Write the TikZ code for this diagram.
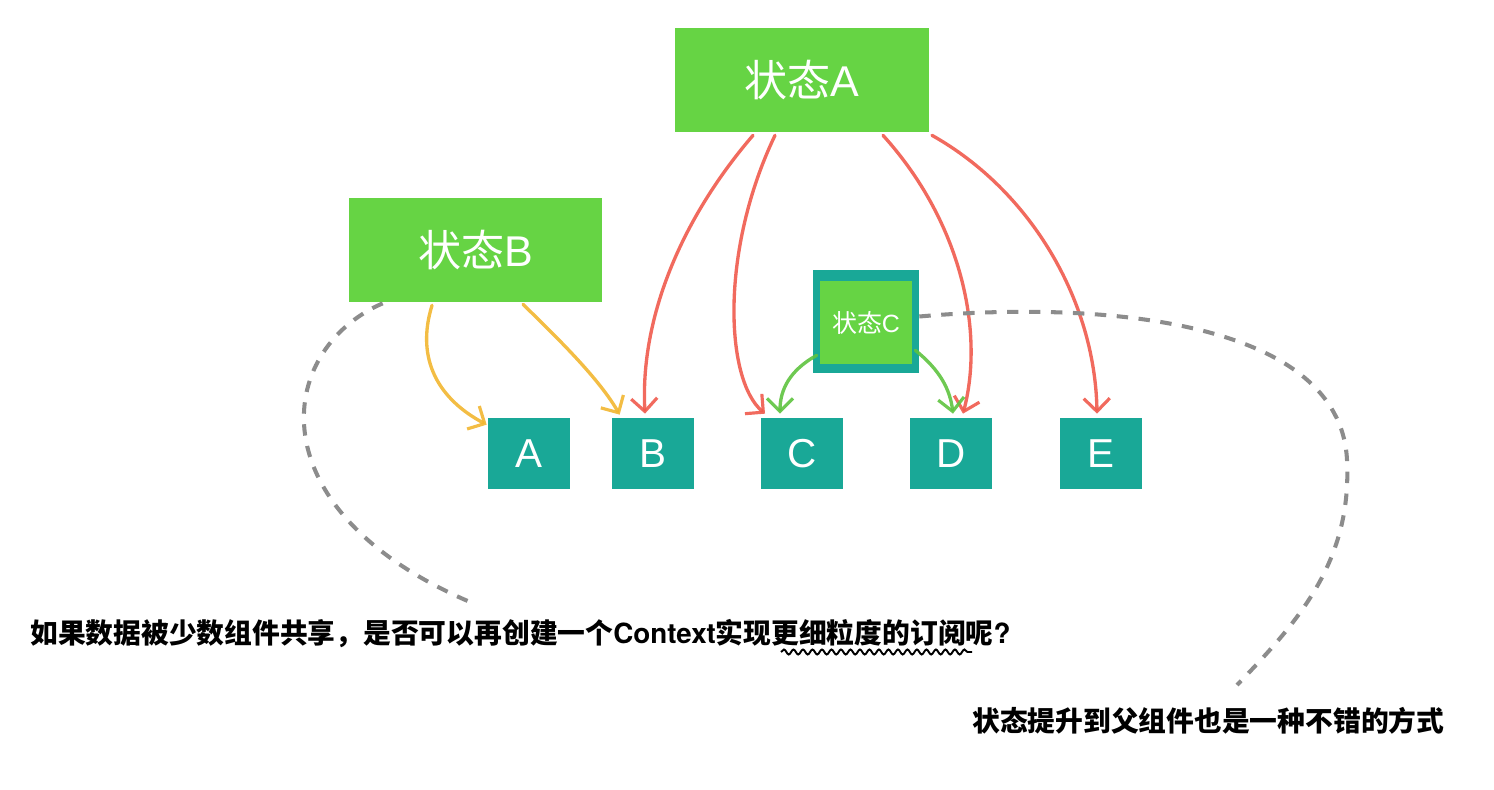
\documentclass[tikz,border=0pt]{standalone}
\usepackage{fontspec}
\setmainfont{Noto Sans CJK SC}
\newfontfamily\lat{Liberation Sans}
\newfontfamily\latb{TeX Gyre Heros}
\usetikzlibrary{arrows.meta,decorations.pathmorphing}
\definecolor{sgreen}{HTML}{66D444}
\definecolor{steal}{HTML}{19A897}
\definecolor{sred}{HTML}{F05A4C}
\definecolor{syellow}{HTML}{F2B630}
\definecolor{sgray}{HTML}{8C8C8C}
\tikzset{
  statebox/.style={fill=sgreen, text=white, inner sep=0pt, font=\fontsize{24.5}{28}\selectfont},
  leafbox/.style={fill=steal, text=white, inner sep=0pt, minimum width=1.64cm, minimum height=1.42cm, font=\lat\fontsize{23}{26}\selectfont},
  sketch/.style={line width=1.9pt, opacity=0.9, line cap=round,
    -{Straight Barb[length=2.6mm, width=5.2mm, line width=1.8pt]}},
  redarrow/.style={sketch, draw=sred},
  yelarrow/.style={sketch, draw=syellow},
  grnarrow/.style={sketch, draw=sgreen!92!black},
  dashlink/.style={draw=sgray, line width=2.3pt, dash pattern=on 6.5pt off 6pt},
  note/.style={inner sep=0pt, text=black, font=\bfseries\fontsize{15.8}{18}\selectfont},
}
\begin{document}
\begin{tikzpicture}[x=0.02cm,y=-0.02cm]
\useasboundingbox (0,0) rectangle (1494,790);
% state boxes
\node[statebox, minimum width=5.08cm, minimum height=2.08cm] (sA) at (802,80) {状态{\lat A}};
\node[statebox, minimum width=5.06cm, minimum height=2.08cm] (sB) at (475.5,250) {状态{\lat B}};
\node[fill=steal, inner sep=0pt, minimum width=2.12cm, minimum height=2.06cm] (sCo) at (866,321.5) {};
\node[statebox, minimum width=1.84cm, minimum height=1.66cm, font=\fontsize{14.2}{16}\selectfont] (sC) at (866,322.5) {状态{\lat C}};
% leaf components
\node[leafbox] (nA) at (529,453.5) {A};
\node[leafbox] (nB) at (653,453.5) {B};
\node[leafbox] (nC) at (802,453.5) {C};
\node[leafbox] (nD) at (951,453.5) {D};
\node[leafbox] (nE) at (1101,453.5) {E};
% notes
\node[note, anchor=base west] (q1) at (30,643) {如果数据被少数组件共享，是否可以再创建一个{\latb\bfseries Context}实现更细粒度的订阅呢{\latb\bfseries ?}};
\node[note, anchor=base west] (q2) at (972,731) {状态提升到父组件也是一种不错的方式};
\coordinate (d1end) at (470,602);
\coordinate (d2end) at (1237,685);
\coordinate (w1) at (781,652);
\coordinate (w2) at (972,652);
% red arrows from state A
\draw[redarrow] ([xshift=-0.98cm,yshift=-0.06cm]sA.south) .. controls +(-73,85) and +(-5,-94) .. ([xshift=-0.16cm,yshift=0.08cm]nB.north);
\draw[redarrow] ([xshift=-0.54cm,yshift=-0.06cm]sA.south) .. controls +(-55,115) and +(-40,-34) .. ([xshift=-0.74cm,yshift=0.08cm]nC.north);
\draw[redarrow] ([xshift=1.62cm,yshift=-0.06cm]sA.south) .. controls +(77,85) and +(22,-84) .. ([xshift=0.24cm,yshift=0.08cm]nD.north);
\draw[redarrow] ([xshift=2.6cm,yshift=-0.06cm]sA.south) .. controls +(98,55) and +(-2,-114) .. ([xshift=-0.08cm,yshift=0.08cm]nE.north);
% yellow arrows from state B
\draw[yelarrow] ([xshift=-0.87cm,yshift=-0.06cm]sB.south) .. controls +(-17,55) and +(-47,-25) .. ([xshift=-0.02cm,yshift=-0.14cm]nA.north west);
\draw[yelarrow] ([xshift=0.95cm,yshift=-0.04cm]sB.south) .. controls +(37,36) and +(-20,-35) .. ([xshift=0.16cm,yshift=0.06cm]nB.north west);
% green arrows from state C
\draw[grnarrow] ([xshift=0.08cm,yshift=0.36cm]sCo.south west) .. controls +(-27,15) and +(0,-24) .. ([xshift=-0.44cm,yshift=0.08cm]nC.north);
\draw[grnarrow] ([xshift=-0.08cm,yshift=0.46cm]sCo.south east) .. controls +(25,20) and +(-3,-24) .. ([xshift=0.04cm,yshift=0.08cm]nD.north);
% dashed links
\draw[dashlink] ([xshift=0.68cm,yshift=-0.02cm]sB.south west) .. controls +(-108,47) and +(-215,-92) .. (d1end);
\draw[dashlink] ([yshift=0.1cm]sCo.east) .. controls +(182,-16) and +(-7,-140) .. (1347,460) .. controls +(5,100) and +(63,-65) .. (d2end);
% wavy underline
\draw[line width=1.1pt, decorate, decoration={snake, segment length=0.19cm, amplitude=0.05cm}] (w1) -- (w2);
\end{tikzpicture}
\end{document}
